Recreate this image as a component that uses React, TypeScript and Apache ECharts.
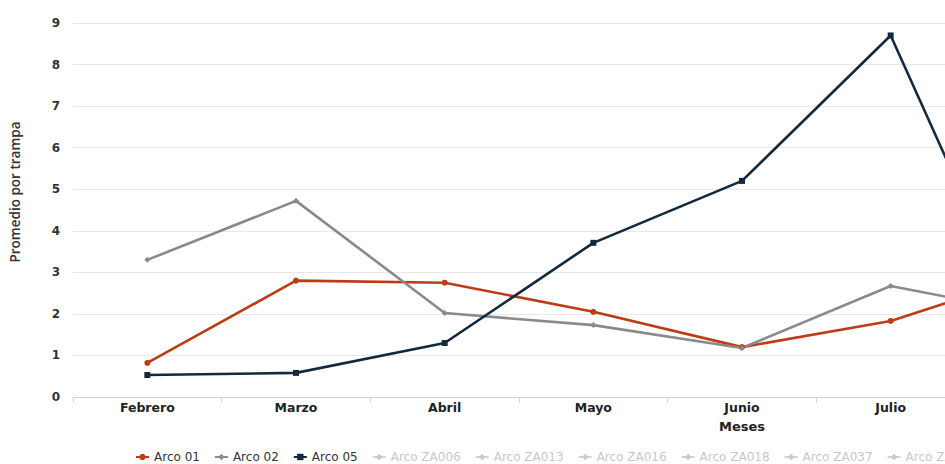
import React, { useEffect, useRef } from "react";
import * as echarts from "echarts";

const months = ["Febrero", "Marzo", "Abril", "Mayo", "Junio", "Julio", "Agosto", "Septiembre", "Octubre"];
const arco01 = [0.82, 2.8, 2.75, 2.05, 1.2, 1.83, 2.98, null, null];
const arco02 = [3.3, 4.72, 2.02, 1.73, 1.18, 2.67, 1.98, null, null];
const arco05 = [0.53, 0.58, 1.3, 3.71, 5.2, 8.7, 0.75, null, null];
const hiddenNames = ["Arco ZA006", "Arco ZA013", "Arco ZA016", "Arco ZA018", "Arco ZA037", "Arco ZA040"];
const yTicks = { min: 0, max: 9, interval: 1 };

export default function App() {
  const ref = useRef<HTMLDivElement>(null);
  useEffect(() => {
    if (!ref.current) return;
    const chart = echarts.init(ref.current, null, { renderer: "svg" });
    const visible = [
      { name: "Arco 01", data: arco01, color: "#BC3C14", symbol: "circle", symbolSize: 6 },
      { name: "Arco 02", data: arco02, color: "#8A8A8A", symbol: "diamond", symbolSize: 6 },
      { name: "Arco 05", data: arco05, color: "#13293D", symbol: "rect", symbolSize: 6 },
    ];
    const selected: Record<string, boolean> = {};
    hiddenNames.forEach((n) => (selected[n] = false));
    const series: any[] = visible.map((s) => ({
      type: "line",
      name: s.name,
      data: s.data,
      symbol: s.symbol,
      symbolSize: s.symbolSize,
      showSymbol: true,
      connectNulls: false,
      itemStyle: { color: s.color },
      lineStyle: { color: s.color, width: 2.6 },
    }));
    hiddenNames.forEach((n) =>
      series.push({ type: "line", name: n, data: [], symbol: "diamond", itemStyle: { color: "#999" } })
    );
    chart.setOption({
      animation: false,
      backgroundColor: "#ffffff",
      grid: { left: 70, right: 69, top: 23, bottom: 67, containLabel: false },
      legend: {
        left: 135,
        top: 451,
        padding: 0,
        itemWidth: 13,
        itemHeight: 8,
        itemGap: 14,
        selected,
        inactiveColor: "#c8c8c8",
        textStyle: { fontFamily: "DejaVu Sans", fontSize: 12, color: "#333" },
        data: [...visible.map((v) => v.name), ...hiddenNames],
      },
      xAxis: {
        type: "category",
        data: months,
        boundaryGap: true,
        name: "Meses",
        nameLocation: "middle",
        nameGap: 23,
        nameTextStyle: { fontFamily: "DejaVu Sans", fontWeight: "bold", fontSize: 13, color: "#222" },
        axisLine: { lineStyle: { color: "#d0d0d0", width: 1 } },
        axisTick: { show: true, length: 6, lineStyle: { color: "#d8d8d8" } },
        axisLabel: {
          interval: 0,
          margin: 4,
          fontFamily: "DejaVu Sans",
          fontWeight: "bold",
          fontSize: 12.5,
          color: "#222",
        },
        splitLine: { show: false },
      },
      yAxis: {
        type: "value",
        min: yTicks.min,
        max: yTicks.max,
        interval: yTicks.interval,
        name: "Promedio por trampa",
        nameLocation: "middle",
        nameGap: 51,
        nameRotate: 90,
        nameTextStyle: {
          fontFamily: "Open Sans",
          fontSize: 13.5,
          fontWeight: 600,
          color: "#333",
          padding: [0, 0, 0, 36],
        },
        axisLine: { show: false },
        axisTick: { show: false },
        axisLabel: {
          margin: 13,
          fontFamily: "DejaVu Sans",
          fontWeight: "bold",
          fontSize: 12,
          color: "#333",
          padding: [0, 0, 9, 0],
        },
        splitLine: { lineStyle: { color: "#e8e8e8", width: 1 } },
      },
      series,
    });
    return () => chart.dispose();
  }, []);
  return (
    <div style={{ position: "absolute", left: 0, top: 0, width: 945, height: 464, overflow: "hidden" }}>
      <div ref={ref} style={{ width: 1480, height: 464 }} />
    </div>
  );
}
